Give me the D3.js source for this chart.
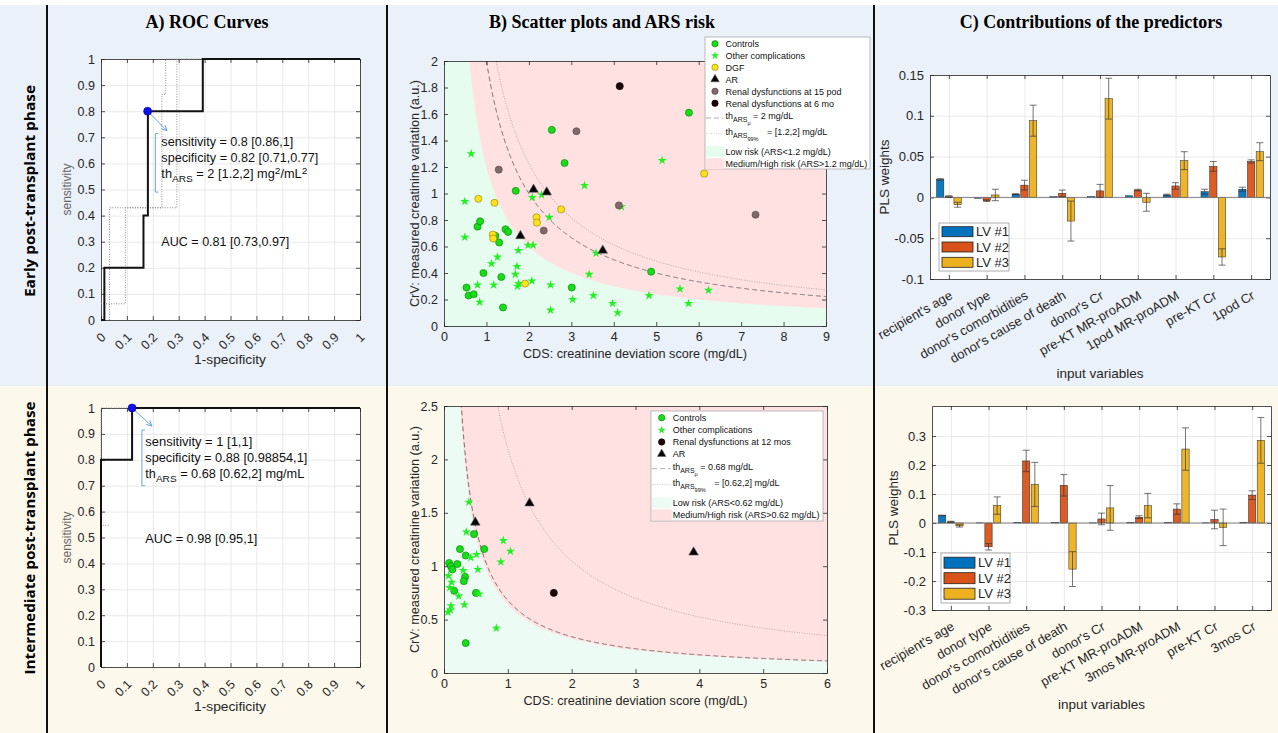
<!DOCTYPE html>
<html>
<head>
<meta charset="utf-8">
<script src="https://cdn.jsdelivr.net/npm/d3@7"></script>
<style>
  body { margin: 0; background: #fff; }
  svg text { font-family: "Liberation Sans", Arial, sans-serif; fill: #262626; }
</style>
</head>
<body>
<div id="chart"></div>
<script>
// ---------- data ----------
const rocTicks = [0, 0.1, 0.2, 0.3, 0.4, 0.5, 0.6, 0.7, 0.8, 0.9, 1];

// ROC, early phase (1-specificity, sensitivity)
const rocEarlyFpr = [0, 0.013, 0.013, 0.164, 0.164, 0.181, 0.181, 0.393, 0.393, 1];
const rocEarlyTpr = [0, 0, 0.2, 0.2, 0.4, 0.4, 0.8, 0.8, 1, 1];
const rocEarlyCiAFpr = [0.033, 0.033, 0.293, 0.293, 1];
const rocEarlyCiATpr = [0, 0.43, 0.43, 1, 1];
const rocEarlyCiBFpr = [0, 0.094, 0.094, 0.235, 0.235, 0.25, 0.25, 0.293];
const rocEarlyCiBTpr = [0.062, 0.062, 0.43, 0.43, 0.865, 0.865, 1, 1];
const rocEarlyOpt = [0.18, 0.8];

// ROC, intermediate phase
const rocInterFpr = [0, 0, 0.12, 0.12, 1];
const rocInterTpr = [0, 0.8, 0.8, 1, 1];
const rocInterCiFpr = [0.03, 0, 0, 0.12];
const rocInterCiTpr = [0.547, 0.547, 1, 1];
const rocInterOpt = [0.12, 1];

// scatter, early phase [CDS, CrV]
const earlyControls = [[0.53,0.29],[0.58,0.23],[0.70,0.24],[0.93,0.40],[0.79,0.75],[0.85,0.79],[1.21,0.68],[1.30,0.63],[1.45,0.73],[1.51,0.71],[1.35,0.37],[1.39,0.14],[1.69,1.02],[2.54,1.48],[2.84,1.23],[3.01,0.29],[4.88,0.41],[5.77,1.61]];
const earlyOther = [[0.64,1.30],[0.49,0.94],[0.49,0.67],[0.79,0.31],[0.84,0.18],[1.12,0.47],[1.17,0.31],[1.26,0.52],[1.68,0.39],[1.72,0.45],[1.75,0.57],[1.73,0.30],[1.76,0.32],[1.98,0.61],[2.10,0.61],[2.07,0.34],[2.08,0.97],[2.30,0.99],[2.48,0.82],[2.51,0.31],[2.51,0.12],[3.03,0.20],[3.31,1.06],[3.42,0.39],[3.52,0.23],[3.58,0.55],[3.97,0.17],[4.09,0.10],[4.18,0.90],[4.83,0.23],[5.14,1.25],[5.56,0.28],[5.76,0.17],[6.23,0.27]];
const earlyDgf = [[0.81,0.96],[1.19,0.93],[1.15,0.69],[1.16,0.66],[2.18,0.82],[2.19,0.78],[1.91,0.32],[2.76,0.88],[6.13,1.15]];
const earlyAr = [[2.11,1.03],[2.42,1.01],[1.80,0.68],[3.74,0.57]];
const earlyRenal15 = [[1.29,1.18],[3.12,1.47],[2.35,0.72],[4.12,0.91],[7.34,0.84]];
const earlyRenal6 = [[4.14,1.81]];
const earlyLowRisk = 1.2;
const earlyThMean = 2;
const earlyThCi = [2.45];

// scatter, intermediate phase
const interControls = [[0.47,1.30],[0.25,1.16],[0.34,1.10],[0.63,1.16],[0.08,1.03],[0.11,1.00],[0.13,0.97],[0.21,1.02],[0.33,0.90],[0.31,0.86],[0.16,0.77],[0.50,0.75],[0.34,0.28]];
const interOther = [[0.39,1.60],[0.35,1.32],[0.93,1.24],[1.04,1.14],[0.89,1.04],[0.51,1.11],[0.42,1.08],[0.53,0.97],[0.30,0.96],[0.07,0.91],[0.12,0.85],[0.09,0.80],[0.23,0.72],[0.32,0.64],[0.11,0.63],[0.10,0.59],[0.06,0.57],[0.55,0.74],[0.82,0.42]];
const interRenal12 = [[1.72,0.75]];
const interAr = [[0.49,1.41],[1.34,1.59],[3.91,1.13]];
const interLowRisk = 0.64;
const interThMean = 0.68;
const interThCi = [2.1];

// PLS weights
const earlyVars = ["recipient's age","donor type","donor's comorbidities","donor's cause of death","donor's Cr","pre-KT MR-proADM","1pod MR-proADM","pre-KT Cr","1pod Cr"];
const earlyLv1 = [0.022, -0.001, 0.004, 0.001, 0.001, 0.002, 0.003, 0.007, 0.010];
const earlyLv2 = [0.001, -0.004, 0.015, 0.005, 0.008, 0.009, 0.014, 0.038, 0.044];
const earlyLv3 = [-0.009, 0.003, 0.094, -0.029, 0.121, -0.006, 0.045, -0.073, 0.056];
const earlyErr1 = [0.001, 0, 0.0005, 0, 0, 0, 0.001, 0.003, 0.0025];
const earlyErr2 = [0.001, 0.001, 0.006, 0.004, 0.008, 0.001, 0.004, 0.006, 0.002];
const earlyErr3 = [0.003, 0.007, 0.019, 0.0245, 0.025, 0.011, 0.011, 0.010, 0.011];

const interVars = ["recipient's age","donor type","donor's comorbidities","donor's cause of death","donor's Cr","pre-KT MR-proADM","3mos MR-proADM","pre-KT Cr","3mos Cr"];
const interLv1 = [0.026, 0.0005, 0.002, 0.001, 0.0005, 0.001, 0.001, 0.0005, 0.002];
const interLv2 = [0.004, -0.082, 0.214, 0.130, 0.014, 0.020, 0.048, 0.012, 0.096];
const interLv3 = [-0.010, 0.060, 0.133, -0.159, 0.052, 0.060, 0.255, -0.015, 0.285];
const interErr1 = [0.001, 0, 0, 0, 0, 0, 0, 0, 0];
const interErr2 = [0.002, 0.011, 0.037, 0.037, 0.020, 0.005, 0.018, 0.032, 0.015];
const interErr3 = [0.004, 0.030, 0.076, 0.060, 0.077, 0.042, 0.073, 0.063, 0.079];

const lvNames = ["LV #1", "LV #2", "LV #3"];
const lvColors = ["#0072BD", "#D95319", "#EDB120"];

// ---------- page ----------
const W = 1278, H = 733;
const svg = d3.select("#chart").append("svg").attr("width", W).attr("height", H);

svg.append("rect").attr("width", W).attr("height", H).attr("fill", "#fff");
svg.append("rect").attr("x", 0).attr("y", 5).attr("width", W).attr("height", 381).attr("fill", "#EBF1F9");
svg.append("rect").attr("x", 0).attr("y", 386).attr("width", W).attr("height", H - 386).attr("fill", "#FDF8EC");
[47, 387, 874].forEach(xv => {
    svg.append("line").attr("x1", xv).attr("x2", xv).attr("y1", 5).attr("y2", H)
        .attr("stroke", "#111").attr("stroke-width", 2);
});

// row labels
[["Early post-transplant phase", 191, 212], ["Intermediate post-transplant phase", 538, 273]].forEach(([t, cy, len]) => {
    svg.append("text")
        .attr("transform", `translate(35,${cy}) rotate(-90)`)
        .attr("text-anchor", "middle")
        .attr("font-weight", "bold")
        .attr("font-size", 15)
        .attr("textLength", len)
        .attr("lengthAdjust", "spacingAndGlyphs")
        .style("fill", "#000")
        .style("font-family", "'Open Sans'")
        .text(t);
});

// column titles
[["A) ROC Curves", 207], ["B) Scatter plots and ARS risk", 602], ["C) Contributions of the predictors", 1091]].forEach(([t, cx]) => {
    svg.append("text")
        .attr("x", cx).attr("y", 28)
        .attr("text-anchor", "middle")
        .attr("font-weight", "bold")
        .attr("font-size", 18)
        .style("font-family", "'Liberation Serif', 'Times New Roman', serif")
        .style("fill", "#000")
        .text(t);
});

const fmt = v => String(+v.toFixed(3));

// MATLAB-like box axes with inward ticks
function boxAxes(g, x, y, xt, yt, o) {
    const [x0, x1] = x.range();
    const [y1, y0] = y.range();
    if (o.grid) {
        g.append("g").attr("class", "grid").attr("transform", `translate(0,${y1})`)
            .call(d3.axisBottom(x).tickValues(xt).tickSize(-(y1 - y0)).tickFormat(""))
            .call(a => a.select(".domain").remove());
        g.append("g").attr("class", "grid").attr("transform", `translate(${x0},0)`)
            .call(d3.axisLeft(y).tickValues(yt).tickSize(-(x1 - x0)).tickFormat(""))
            .call(a => a.select(".domain").remove());
        g.selectAll(".grid line").attr("stroke", "#E3E3E3").attr("stroke-width", 0.8);
    }
    const tk = 4;
    const bottom = g.append("g").attr("class", "ax").attr("transform", `translate(0,${y1})`)
        .call(d3.axisBottom(x).tickValues(xt).tickSize(-tk).tickSizeOuter(0)
            .tickFormat(o.xFormat || fmt).tickPadding(o.xPad || 6));
    g.append("g").attr("class", "ax").attr("transform", `translate(0,${y0})`)
        .call(d3.axisTop(x).tickValues(xt).tickSize(-tk).tickSizeOuter(0).tickFormat(""));
    const left = g.append("g").attr("class", "ax").attr("transform", `translate(${x0},0)`)
        .call(d3.axisLeft(y).tickValues(yt).tickSize(-tk).tickSizeOuter(0).tickFormat(fmt).tickPadding(6));
    g.append("g").attr("class", "ax").attr("transform", `translate(${x1},0)`)
        .call(d3.axisRight(y).tickValues(yt).tickSize(-tk).tickSizeOuter(0).tickFormat(""));
    g.selectAll(".ax .domain").attr("stroke", "#262626").attr("stroke-width", 0.8);
    g.selectAll(".ax .tick line").attr("stroke", "#262626").attr("stroke-width", 0.8);
    g.selectAll(".ax .tick text").attr("font-family", null).attr("font-size", o.fs).style("fill", "#262626");
    return { bottom, left };
}

// ---------- A) ROC ----------
function drawRoc(o) {
    const g = svg.append("g");
    const x = d3.scaleLinear().domain([0, 1]).range([101, 360]);
    const y = d3.scaleLinear().domain([0, 1]).range([o.bottom, o.top]);
    g.append("rect").attr("x", 101).attr("y", o.top).attr("width", 259).attr("height", o.bottom - o.top).attr("fill", "#fff");
    const ax = boxAxes(g, x, y, rocTicks, rocTicks, { grid: true, fs: 12.5 });
    ax.bottom.selectAll("text")
        .attr("y", null).attr("dy", null)
        .attr("text-anchor", "end")
        .attr("transform", "translate(5,18) rotate(-45)");

    const line = d3.line().x(d => x(d[0])).y(d => y(d[1]));
    o.ci.forEach(([fx, ty]) => {
        g.append("path").attr("d", line(d3.zip(fx, ty)))
            .attr("fill", "none").attr("stroke", "#8c8c8c").attr("stroke-width", 1)
            .attr("stroke-dasharray", "1,1.5");
    });
    g.append("path").attr("d", line(d3.zip(o.fpr, o.tpr)))
        .attr("fill", "none").attr("stroke", "#111").attr("stroke-width", 2);

    // datatip style annotation
    const blue = "#6AA5DA";
    const [ox, oy] = o.opt;
    const ex = x(o.arrow[0]), ey = y(o.arrow[1]);
    g.append("line").attr("x1", x(ox)).attr("y1", y(oy)).attr("x2", ex).attr("y2", ey)
        .attr("stroke", blue).attr("stroke-width", 1);
    const ang = Math.atan2(ey - y(oy), ex - x(ox));
    const ah = 6;
    g.append("path")
        .attr("d", `M${ex},${ey} L${ex - ah * Math.cos(ang - 0.45)},${ey - ah * Math.sin(ang - 0.45)} M${ex},${ey} L${ex - ah * Math.cos(ang + 0.45)},${ey - ah * Math.sin(ang + 0.45)}`)
        .attr("stroke", blue).attr("fill", "none").attr("stroke-width", 1);
    const bx = x(o.bracket[0]);
    g.append("path")
        .attr("d", `M${bx + 3},${y(o.bracket[1])} H${bx} V${y(o.bracket[2])} H${bx + 3}`)
        .attr("stroke", blue).attr("fill", "none").attr("stroke-width", 1);
    g.append("circle").attr("cx", x(ox)).attr("cy", y(oy)).attr("r", 4)
        .attr("fill", "#1010F0").attr("stroke", "#00008a").attr("stroke-width", 0.6);

    const tx = x(o.textX);
    o.lines.forEach((ln, i) => {
        const el = g.append("text").attr("x", tx).attr("y", y(o.textY) + i * 16)
            .attr("font-size", 12).style("fill", "#111")
            .attr("textLength", o.widths[i]).attr("lengthAdjust", "spacingAndGlyphs");
        if (typeof ln === "string") el.text(ln);
        else ln.forEach(part => {
            const sp = el.append("tspan").text(part.t);
            if (part.sub) sp.attr("dy", part.sub).attr("font-size", 9.5);
            if (part.sup) sp.attr("dy", part.sup).attr("font-size", 9.5);
            if (part.back) sp.attr("dy", part.back);
        });
    });
    g.append("text").attr("x", tx).attr("y", y(o.aucY)).attr("font-size", 12)
        .attr("textLength", o.widths[3]).attr("lengthAdjust", "spacingAndGlyphs")
        .style("fill", "#111").text(o.auc);

    g.append("text").attr("x", 230).attr("y", o.bottom + 44).attr("text-anchor", "middle")
        .attr("font-size", 12).attr("textLength", 72).attr("lengthAdjust", "spacingAndGlyphs")
        .text("1-specificity");
    g.append("text").attr("transform", `translate(71,${(o.top + o.bottom) / 2}) rotate(-90)`)
        .attr("text-anchor", "middle").attr("font-size", 12).style("fill", "#666").text("sensitivity");
}

drawRoc({
    top: 59, bottom: 320,
    fpr: rocEarlyFpr, tpr: rocEarlyTpr,
    ci: [[rocEarlyCiAFpr, rocEarlyCiATpr], [rocEarlyCiBFpr, rocEarlyCiBTpr]],
    opt: rocEarlyOpt, arrow: [0.255, 0.725], bracket: [0.21, 0.715, 0.49],
    textX: 0.233, textY: 0.665,
    lines: [
        "sensitivity = 0.8 [0.86,1]",
        "specificity = 0.82 [0.71,0.77]",
        [{ t: "th" }, { t: "ARS", sub: 4 }, { t: " = 2 [1.2,2] mg", back: -4 }, { t: "2", sup: -4 }, { t: "/mL", back: 4 }, { t: "2", sup: -4 }]
    ],
    widths: [132, 157, 146, 128],
    aucY: 0.285, auc: "AUC = 0.81 [0.73,0.97]"
});

drawRoc({
    top: 408, bottom: 667,
    fpr: rocInterFpr, tpr: rocInterTpr,
    ci: [[rocInterCiFpr, rocInterCiTpr]],
    opt: rocInterOpt, arrow: [0.197, 0.93], bracket: [0.158, 0.915, 0.70],
    textX: 0.171, textY: 0.855,
    lines: [
        "sensitivity = 1 [1,1]",
        "specificity = 0.88 [0.98854,1]",
        [{ t: "th" }, { t: "ARS", sub: 4 }, { t: " = 0.68 [0.62,2] mg/mL", back: -4 }]
    ],
    widths: [107, 162, 159, 112],
    aucY: 0.48, auc: "AUC = 0.98 [0.95,1]"
});

// ---------- B) scatter ----------
const styles = {
    controls: { sym: d3.symbolCircle, size: 40, fill: "#17DD17", stroke: "#0B7A0B" },
    other: { sym: d3.symbolStar, size: 26, fill: "#22F022", stroke: "none" },
    dgf: { sym: d3.symbolCircle, size: 40, fill: "#FFE21A", stroke: "#8C7E00" },
    ar: { sym: d3.symbolTriangle, size: 40, fill: "#050505", stroke: "#666" },
    renal15: { sym: d3.symbolCircle, size: 40, fill: "#7E6A6A", stroke: "#5A4848" },
    renal6: { sym: d3.symbolCircle, size: 40, fill: "#1E0606", stroke: "#000" }
};

let clipId = 0;
function drawScatter(o) {
    const g = svg.append("g");
    const x = d3.scaleLinear().domain([0, o.xMax]).range([444, o.x1]);
    const y = d3.scaleLinear().domain([0, o.yMax]).range([o.bottom, o.top]);
    const id = "clip" + (clipId++);
    g.append("clipPath").attr("id", id).append("rect")
        .attr("x", 444).attr("y", o.top).attr("width", o.x1 - 444).attr("height", o.bottom - o.top);
    const pg = g.append("g").attr("clip-path", `url(#${id})`);
    pg.append("rect").attr("x", 444).attr("y", o.top).attr("width", o.x1 - 444).attr("height", o.bottom - o.top)
        .attr("fill", "#FFE1E1");

    const xs = d3.range(0.005, o.xMax + 0.01, 0.01);
    const area = d3.area().x(d => x(d)).y0(y(0)).y1(d => y(Math.min(o.yMax * 1.2, o.low / d)));
    pg.append("path").attr("d", area(xs)).attr("fill", o.green);
    const curve = th => d3.line().x(d => x(d)).y(d => y(Math.min(o.yMax * 1.2, th / d)))(xs);
    pg.append("path").attr("d", curve(o.thMean)).attr("fill", "none")
        .attr("stroke", "#555").attr("stroke-width", 0.8).attr("stroke-dasharray", "5,3");
    o.thCi.forEach(th => {
        pg.append("path").attr("d", curve(th)).attr("fill", "none")
            .attr("stroke", "#9a9a9a").attr("stroke-width", 0.8).attr("stroke-dasharray", "1,1.5");
    });

    o.groups.forEach(([key, pts]) => {
        const s = styles[key];
        pg.selectAll(null).data(pts).enter().append("path")
            .attr("transform", d => `translate(${x(d[0])},${y(d[1])})`)
            .attr("d", d3.symbol().type(s.sym).size(s.size))
            .attr("fill", s.fill).attr("stroke", s.stroke).attr("stroke-width", 0.6);
    });

    boxAxes(g, x, y, o.xTicks, o.yTicks, { fs: 12.5 });
    g.append("text").attr("x", (444 + o.x1) / 2).attr("y", o.bottom + 32).attr("text-anchor", "middle")
        .attr("font-size", 13).attr("textLength", 224).attr("lengthAdjust", "spacingAndGlyphs")
        .text("CDS: creatinine deviation score (mg/dL)");
    g.append("text").attr("transform", `translate(419,${(o.top + o.bottom) / 2}) rotate(-90)`)
        .attr("text-anchor", "middle").attr("font-size", 13).attr("textLength", 227).attr("lengthAdjust", "spacingAndGlyphs")
        .text("CrV: measured creatinine variation (a.u.)");

    // legend
    const L = o.legend;
    const lg = svg.append("g").attr("font-size", 9);
    lg.append("rect").attr("x", L.x0).attr("y", L.y0).attr("width", L.x1 - L.x0).attr("height", L.y1 - L.y0)
        .attr("fill", "#fff").attr("stroke", "#aaa").attr("stroke-width", 0.8);
    let yy = L.y0 + L.first;
    L.items.forEach(it => {
        yy += it.gap || 0;
        if (it.key) {
            const s = styles[it.key];
            lg.append("path").attr("transform", `translate(${L.mx},${yy})`)
                .attr("d", d3.symbol().type(s.sym).size(s.size * 0.8))
                .attr("fill", s.fill).attr("stroke", s.stroke).attr("stroke-width", 0.6);
        } else if (it.line) {
            lg.append("line").attr("x1", L.x0 + 1).attr("x2", L.tx - 2).attr("y1", yy + 2).attr("y2", yy + 2)
                .attr("stroke", it.line === "dash" ? "#999" : "#bbb").attr("stroke-width", 0.8)
                .attr("stroke-dasharray", it.line === "dash" ? "5,3" : "1,1.5");
        } else if (it.patch) {
            lg.append("rect").attr("x", L.x0 + 1).attr("y", yy - 5.5).attr("width", L.tx - L.x0 - 2).attr("height", 11)
                .attr("fill", it.patch);
        }
        const t = lg.append("text").attr("x", L.tx).attr("y", yy + 3.2).style("fill", "#111");
        if (it.th) {
            t.append("tspan").text("th");
            t.append("tspan").text("ARS").attr("dy", 3).attr("font-size", 7);
            t.append("tspan").text(it.th).attr("dy", 3).attr("font-size", 5.5);
            t.append("tspan").text(it.text).attr("dy", -6).attr("dx", it.th === "99%" ? 6 : 0);
        } else {
            t.text(it.text);
        }
    });
}

drawScatter({
    xMax: 9, yMax: 2, x1: 826, top: 61, bottom: 326,
    xTicks: [0, 1, 2, 3, 4, 5, 6, 7, 8, 9], yTicks: [0, 0.2, 0.4, 0.6, 0.8, 1, 1.2, 1.4, 1.6, 1.8, 2],
    low: earlyLowRisk, thMean: earlyThMean, thCi: earlyThCi, green: "#E5FCEE",
    groups: [["controls", earlyControls], ["other", earlyOther], ["dgf", earlyDgf], ["ar", earlyAr], ["renal15", earlyRenal15], ["renal6", earlyRenal6]],
    legend: {
        x0: 705, x1: 870, y0: 37, y1: 169, mx: 715, tx: 725.5, first: 6.7,
        items: [
            { key: "controls", text: "Controls" },
            { key: "other", text: "Other complications", gap: 12 },
            { key: "dgf", text: "DGF", gap: 11.6 },
            { key: "ar", text: "AR", gap: 12 },
            { key: "renal15", text: "Renal dysfunctions at 15 pod", gap: 12 },
            { key: "renal6", text: "Renal dysfunctions at 6 mo", gap: 12 },
            { line: "dash", th: "\u03bc", text: " = 2 mg/dL", gap: 12.7 },
            { line: "dot", th: "99%", text: " = [1.2,2] mg/dL", gap: 15.7 },
            { patch: "#E5FCEE", text: "Low risk (ARS<1.2 mg/dL)", gap: 20 },
            { patch: "#FFE1E1", text: "Medium/High risk (ARS>1.2 mg/dL)", gap: 12 }
        ]
    }
});

drawScatter({
    xMax: 6, yMax: 2.5, x1: 827, top: 406, bottom: 673,
    xTicks: [0, 1, 2, 3, 4, 5, 6], yTicks: [0, 0.5, 1, 1.5, 2, 2.5],
    low: interLowRisk, thMean: interThMean, thCi: interThCi, green: "#ECFBF3",
    groups: [["controls", interControls], ["other", interOther], ["renal6", interRenal12], ["ar", interAr]],
    legend: {
        x0: 651, x1: 823, y0: 411, y1: 521, mx: 661.7, tx: 672.7, first: 6.7,
        items: [
            { key: "controls", text: "Controls" },
            { key: "other", text: "Other complications", gap: 12.3 },
            { key: "renal6", text: "Renal dysfunctions at 12 mos", gap: 12 },
            { key: "ar", text: "AR", gap: 12 },
            { line: "dash", th: "\u03bc", text: " = 0.68 mg/dL", gap: 12.7 },
            { line: "dot", th: "99%", text: " = [0.62,2] mg/dL", gap: 16 },
            { patch: "#ECFBF3", text: "Low risk (ARS<0.62 mg/dL)", gap: 20 },
            { patch: "#FFE1E1", text: "Medium/High risk (ARS>0.62 mg/dL)", gap: 12 }
        ]
    }
});

// ---------- C) PLS weights ----------
function drawBars(o) {
    const g = svg.append("g");
    const x = d3.scaleBand().domain(o.vars).range([o.x0, o.x1]).padding(0);
    const sub = d3.scaleBand().domain([0, 1, 2])
        .range([-0.345 * x.step(), 0.345 * x.step()]).paddingInner(0.16).paddingOuter(0.08);
    const y = d3.scaleLinear().domain(o.yDom).range([o.bottom, o.top]);
    g.append("rect").attr("x", o.x0).attr("y", o.top).attr("width", o.x1 - o.x0).attr("height", o.bottom - o.top)
        .attr("fill", "#fff");
    const cx = v => x(v) + x.bandwidth() / 2;
    // point scale over the same pixel range so the shared axis helper can place ticks at band centres
    const xp = d3.scalePoint().domain(o.vars).range([o.x0, o.x1]).padding(0.5);
    const ax = boxAxes(g, xp, y, o.vars, o.yTicks, { grid: true, fs: 13, xFormat: d => d });
    ax.bottom.selectAll("text")
        .attr("y", null).attr("dy", null)
        .attr("text-anchor", "end")
        .attr("transform", "translate(4,19) rotate(-30)");

    const series = [o.lv1, o.lv2, o.lv3];
    const errs = [o.e1, o.e2, o.e3];
    series.forEach((vals, k) => {
        g.selectAll(null).data(o.vars).enter().append("rect")
            .attr("x", v => cx(v) + sub(k))
            .attr("width", sub.bandwidth())
            .attr("y", (v, i) => y(Math.max(0, vals[i])))
            .attr("height", (v, i) => Math.abs(y(vals[i]) - y(0)))
            .attr("fill", lvColors[k]).attr("fill-opacity", 0.95)
            .attr("stroke", "#222").attr("stroke-width", 0.5);
    });
    g.append("line").attr("x1", o.x0).attr("x2", o.x1).attr("y1", y(0)).attr("y2", y(0))
        .attr("stroke", "#777").attr("stroke-width", 0.9);
    series.forEach((vals, k) => {
        o.vars.forEach((v, i) => {
            const e = errs[k][i];
            if (!e) return;
            const mx = cx(v) + sub(k) + sub.bandwidth() / 2;
            const eg = g.append("g").attr("stroke", "#333").attr("stroke-opacity", 0.75).attr("stroke-width", 0.9);
            eg.append("line").attr("x1", mx).attr("x2", mx).attr("y1", y(vals[i] - e)).attr("y2", y(vals[i] + e));
            [vals[i] - e, vals[i] + e].forEach(vv => {
                eg.append("line").attr("x1", mx - 3.5).attr("x2", mx + 3.5).attr("y1", y(vv)).attr("y2", y(vv));
            });
        });
    });

    g.append("text").attr("x", (o.x0 + o.x1) / 2).attr("y", o.xlabY).attr("text-anchor", "middle")
        .attr("font-size", 13.5).text("input variables");
    g.append("text").attr("transform", `translate(${o.ylabX},${(o.top + o.bottom) / 2}) rotate(-90)`)
        .attr("text-anchor", "middle").attr("font-size", 13.5).text("PLS weights");

    const L = o.legend;
    const lg = g.append("g");
    lg.append("rect").attr("x", L.x0).attr("y", L.y0).attr("width", L.x1 - L.x0).attr("height", L.y1 - L.y0)
        .attr("fill", "#fff").attr("stroke", "#999").attr("stroke-width", 0.8);
    lvNames.forEach((n, k) => {
        const yy = L.y0 + L.first + k * L.step;
        lg.append("rect").attr("x", L.x0 + 3).attr("y", yy - L.sh / 2).attr("width", 31).attr("height", L.sh)
            .attr("fill", lvColors[k]).attr("stroke", "#222").attr("stroke-width", 0.8);
        lg.append("text").attr("x", L.x0 + 37).attr("y", yy + 4.6).attr("font-size", 13).text(n);
    });
}

drawBars({
    vars: earlyVars, lv1: earlyLv1, lv2: earlyLv2, lv3: earlyLv3, e1: earlyErr1, e2: earlyErr2, e3: earlyErr3,
    x0: 930, x1: 1270, top: 75, bottom: 279, yDom: [-0.1, 0.15],
    yTicks: [-0.1, -0.05, 0, 0.05, 0.1, 0.15],
    xlabY: 378, ylabX: 889,
    legend: { x0: 939, x1: 1009, y0: 223, y1: 271, first: 8.7, step: 15.3, sh: 10 }
});

drawBars({
    vars: interVars, lv1: interLv1, lv2: interLv2, lv3: interLv3, e1: interErr1, e2: interErr2, e3: interErr3,
    x0: 932, x1: 1271, top: 406, bottom: 610, yDom: [-0.3, 0.4034],
    yTicks: [-0.3, -0.2, -0.1, 0, 0.1, 0.2, 0.3],
    xlabY: 709, ylabX: 898,
    legend: { x0: 941, x1: 1010, y0: 553, y1: 603, first: 9.7, step: 15.5, sh: 11 }
});
</script>
</body>
</html>
